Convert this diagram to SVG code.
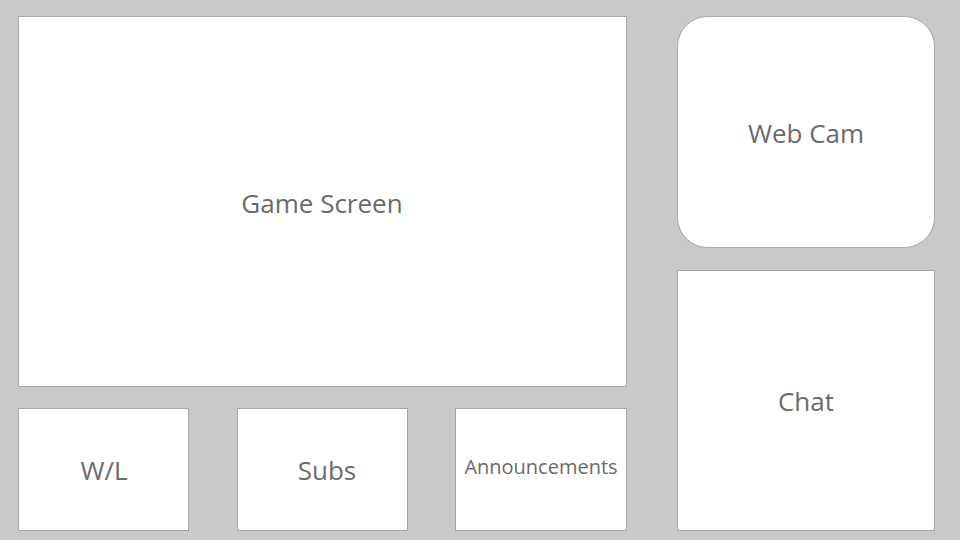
<svg xmlns="http://www.w3.org/2000/svg" width="960" height="540" viewBox="0 0 960 540">
<style>
.box{fill:#fff;stroke:#a6a6a6;stroke-width:1}
.lbl{font-family:"Open Sans","Noto Sans",sans-serif;fill:#6b6b6b;text-anchor:middle;dominant-baseline:central}
</style>
<rect width="960" height="540" fill="#c9c9c9"/>
<g id="game-screen"><rect class="box" x="18.5" y="16.5" width="608" height="370"/><text class="lbl" x="322" y="203" font-size="26">Game Screen</text></g>
<g id="web-cam"><rect class="box" x="677.5" y="16.5" width="257" height="231" rx="30"/><text class="lbl" x="806" y="133" font-size="26">Web Cam</text></g>
<g id="chat"><rect class="box" x="677.5" y="270.5" width="257" height="260"/><text class="lbl" x="806" y="401" font-size="26">Chat</text></g>
<g id="wl"><rect class="box" x="18.5" y="408.5" width="170" height="122"/><text class="lbl" x="104" y="470" font-size="26">W/L</text></g>
<g id="subs"><rect class="box" x="237.5" y="408.5" width="170" height="122"/><text class="lbl" x="327" y="470" font-size="26">Subs</text></g>
<g id="announcements"><rect class="box" x="455.5" y="408.5" width="171" height="122"/><text class="lbl" x="541" y="466" font-size="20">Announcements</text></g>
<g id="connectors"/>
</svg>
